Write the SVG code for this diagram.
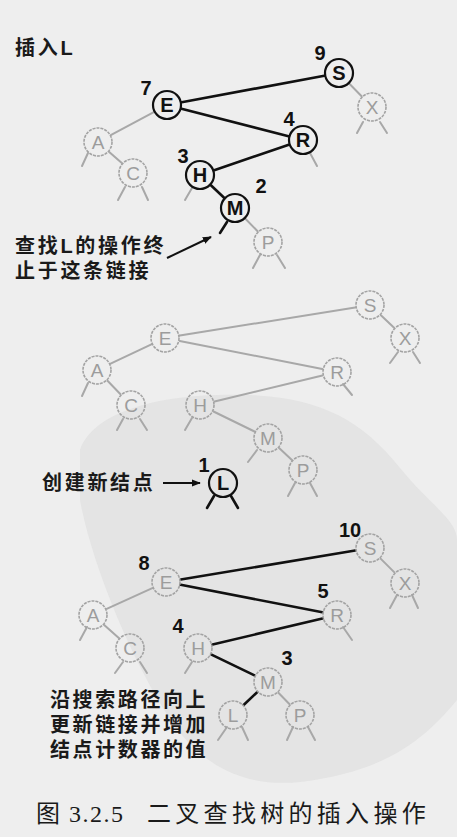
<svg xmlns="http://www.w3.org/2000/svg" width="457" height="837" viewBox="0 0 457 837">
<style>
.bg{fill:#eeeeee}
.blob{fill:#d9d9d9;opacity:0.5}
.bn circle{fill:none;stroke:#111;stroke-width:2.2}
.gn circle{fill:none;stroke:#a3a3a3;stroke-width:1.6;stroke-dasharray:3 1}
.bn text{font-family:"Liberation Sans",Arial,sans-serif;font-weight:bold;font-size:20px;fill:#111;text-anchor:middle}
.gn text{font-family:"Liberation Sans",Arial,sans-serif;font-size:19px;fill:#9c9c9c;text-anchor:middle}
.be{stroke:#111;stroke-width:2.6;fill:none;stroke-linecap:round}
.ge{stroke:#a8a8a8;stroke-width:2;fill:none;stroke-linecap:round}
.num{font-family:"Liberation Sans",Arial,sans-serif;font-weight:bold;font-size:20px;fill:#111;text-anchor:middle}
.cjk{font-family:"Liberation Sans","Noto Sans CJK SC",sans-serif;font-weight:bold;font-size:20px;fill:#1a1a1a;letter-spacing:2.7px}
.cap{font-family:"Liberation Serif","Noto Sans CJK SC",serif;font-size:24px;fill:#1a1a1a}
</style>
<defs>
<marker id="ah" viewBox="0 0 10 10" refX="9" refY="5" markerWidth="9" markerHeight="9" markerUnits="userSpaceOnUse" orient="auto"><path d="M0,1 L10,5 L0,9 Z" fill="#111"/></marker>
</defs>
<rect class="bg" x="0" y="0" width="457" height="837"/>
<path class="blob" d="M80 450 C95 408 170 392 250 395 C320 398 362 420 400 468 C430 505 457 520 457 540 L457 700 C420 745 380 772 300 782 C240 788 200 762 172 722 C132 662 92 565 80 500 Z"/>

<!-- texts -->
<text class="cjk" x="15" y="55">插入L</text>
<text class="cjk" x="15" y="253">查找L的操作终</text>
<text class="cjk" x="15" y="278">止于这条链接</text>
<text class="cjk" x="42" y="490">创建新结点</text>
<text class="cjk" x="50" y="707" style="letter-spacing:2.6px">沿搜索路径向上</text>
<text class="cjk" x="50" y="732" style="letter-spacing:2.6px">更新链接并增加</text>
<text class="cjk" x="50" y="757" style="letter-spacing:2.6px">结点计数器的值</text>
<text class="cap" x="36" y="822" style="letter-spacing:1.5px">图 3.2.5</text>
<text class="cap" x="147" y="822" style="letter-spacing:4.3px">二叉查找树的插入操作</text>

<!-- connectors -->
<g id="connectors">
  <!-- top tree -->
  <line class="be" x1="181.7" y1="102.3" x2="324.3" y2="75.7"/>
  <line class="be" x1="181.5" y1="108.7" x2="288.5" y2="136.3"/>
  <line class="be" x1="288.8" y1="144.8" x2="214.2" y2="170.2"/>
  <line class="be" x1="210.9" y1="185.3" x2="224.1" y2="197.7"/>
  <line class="ge" x1="153.8" y1="112.1" x2="111.2" y2="134.9"/>
  <line class="ge" x1="109.2" y1="151.9" x2="121.8" y2="163.1"/>
  <line class="ge" x1="349.4" y1="83.8" x2="361.6" y2="96.2"/>
  <line class="ge" x1="245.4" y1="218.8" x2="257.6" y2="231.2"/>
  <line class="be" x1="227" y1="222" x2="220" y2="233"/>
  <line class="ge" x1="363" y1="122" x2="357" y2="133"/>
  <line class="ge" x1="380" y1="122" x2="387" y2="133"/>
  <line class="ge" x1="88" y1="153" x2="82" y2="166"/>
  <line class="ge" x1="125" y1="187" x2="118" y2="200"/>
  <line class="ge" x1="142" y1="187" x2="148" y2="200"/>
  <line class="ge" x1="310" y1="153" x2="317" y2="166"/>
  <line class="ge" x1="192" y1="188" x2="185" y2="200"/>
  <line class="ge" x1="260" y1="255" x2="253" y2="268"/>
  <line class="ge" x1="277" y1="255" x2="285" y2="268"/>
  <line x1="167" y1="258" x2="211" y2="237" stroke="#111" stroke-width="2" marker-end="url(#ah)"/>

  <!-- middle tree -->
  <line class="ge" x1="179.8" y1="335.6" x2="355.2" y2="307.4"/>
  <line class="ge" x1="179.7" y1="340.9" x2="322.3" y2="369.1"/>
  <line class="ge" x1="322.4" y1="375.5" x2="214.6" y2="401.5"/>
  <line class="ge" x1="213.5" y1="411.5" x2="254.5" y2="431.5"/>
  <line class="ge" x1="151.4" y1="344.4" x2="110.6" y2="363.6"/>
  <line class="ge" x1="107.5" y1="380.8" x2="120.5" y2="394.2"/>
  <line class="ge" x1="380.9" y1="315.3" x2="394.1" y2="327.7"/>
  <line class="ge" x1="279.1" y1="448.1" x2="291.9" y2="459.9"/>
  <line class="ge" x1="398" y1="352" x2="390" y2="363"/>
  <line class="ge" x1="413" y1="352" x2="420" y2="363"/>
  <line class="ge" x1="88" y1="383" x2="82" y2="396"/>
  <line class="ge" x1="123" y1="419" x2="117" y2="430"/>
  <line class="ge" x1="140" y1="419" x2="147" y2="430"/>
  <line class="ge" x1="343" y1="384" x2="352" y2="395"/>
  <line class="ge" x1="192" y1="418" x2="185" y2="430"/>
  <line class="ge" x1="257" y1="450" x2="248" y2="462"/>
  <line class="ge" x1="295" y1="483" x2="288" y2="496"/>
  <line class="ge" x1="310" y1="483" x2="317" y2="496"/>
  <line class="be" x1="214" y1="496" x2="207" y2="508"/>
  <line class="be" x1="231" y1="496" x2="238" y2="508"/>
  <line x1="163" y1="483" x2="200" y2="483" stroke="#111" stroke-width="2" marker-end="url(#ah)"/>

  <!-- bottom tree -->
  <line class="be" x1="180.8" y1="579.5" x2="355.2" y2="550.5"/>
  <line class="be" x1="180.7" y1="584.8" x2="322.3" y2="612.2"/>
  <line class="be" x1="322.4" y1="618.5" x2="212.6" y2="644.5"/>
  <line class="be" x1="211.5" y1="654.6" x2="254.5" y2="675.4"/>
  <line class="be" x1="257.1" y1="692.3" x2="243.9" y2="704.7"/>
  <line class="ge" x1="278.4" y1="692.8" x2="289.6" y2="704.2"/>
  <line class="ge" x1="152.3" y1="588.2" x2="106.7" y2="608.8"/>
  <line class="ge" x1="104.2" y1="625" x2="118.8" y2="638"/>
  <line class="ge" x1="380.6" y1="558.6" x2="394.4" y2="572.4"/>
  <line class="ge" x1="397" y1="595" x2="390" y2="608"/>
  <line class="ge" x1="412" y1="595" x2="418" y2="608"/>
  <line class="ge" x1="87" y1="627" x2="80" y2="640"/>
  <line class="ge" x1="123" y1="662" x2="115" y2="673"/>
  <line class="ge" x1="140" y1="662" x2="147" y2="673"/>
  <line class="ge" x1="343" y1="627" x2="352" y2="640"/>
  <line class="ge" x1="192" y1="662" x2="185" y2="673"/>
  <line class="ge" x1="227" y1="727" x2="218" y2="740"/>
  <line class="ge" x1="242" y1="727" x2="248" y2="740"/>
  <line class="ge" x1="293" y1="727" x2="287" y2="740"/>
  <line class="ge" x1="308" y1="727" x2="315" y2="740"/>
</g>

<!-- top tree nodes -->
<g id="t-S" class="bn"><circle cx="339" cy="73" r="14"/><text x="339" y="80">S</text></g>
<g id="t-E" class="bn"><circle cx="167" cy="105" r="14"/><text x="167" y="112">E</text></g>
<g id="t-R" class="bn"><circle cx="303" cy="140" r="14"/><text x="303" y="147">R</text></g>
<g id="t-H" class="bn"><circle cx="200" cy="175" r="14"/><text x="200" y="182">H</text></g>
<g id="t-M" class="bn"><circle cx="235" cy="208" r="14"/><text x="235" y="215">M</text></g>
<g id="t-X" class="gn"><circle cx="372" cy="107" r="14"/><text x="372" y="114">X</text></g>
<g id="t-A" class="gn"><circle cx="98" cy="142" r="14"/><text x="98" y="149">A</text></g>
<g id="t-C" class="gn"><circle cx="133" cy="173" r="14"/><text x="133" y="180">C</text></g>
<g id="t-P" class="gn"><circle cx="268" cy="242" r="14"/><text x="268" y="249">P</text></g>
<text class="num" x="320" y="60">9</text>
<text class="num" x="146" y="95">7</text>
<text class="num" x="289" y="126">4</text>
<text class="num" x="183" y="163">3</text>
<text class="num" x="261" y="193">2</text>

<!-- middle tree nodes -->
<g id="m-S" class="gn"><circle cx="370" cy="305" r="14"/><text x="370" y="312">S</text></g>
<g id="m-X" class="gn"><circle cx="405" cy="338" r="14"/><text x="405" y="345">X</text></g>
<g id="m-E" class="gn"><circle cx="165" cy="338" r="14"/><text x="165" y="345">E</text></g>
<g id="m-A" class="gn"><circle cx="97" cy="370" r="14"/><text x="97" y="377">A</text></g>
<g id="m-C" class="gn"><circle cx="131" cy="405" r="14"/><text x="131" y="412">C</text></g>
<g id="m-R" class="gn"><circle cx="337" cy="372" r="14"/><text x="337" y="379">R</text></g>
<g id="m-H" class="gn"><circle cx="200" cy="405" r="14"/><text x="200" y="412">H</text></g>
<g id="m-M" class="gn"><circle cx="268" cy="438" r="14"/><text x="268" y="445">M</text></g>
<g id="m-P" class="gn"><circle cx="303" cy="470" r="14"/><text x="303" y="477">P</text></g>
<g id="m-L" class="bn"><circle cx="223" cy="483" r="14"/><text x="223" y="490">L</text></g>
<text class="num" x="204" y="472">1</text>

<!-- bottom tree nodes -->
<g id="b-S" class="gn"><circle cx="370" cy="548" r="14"/><text x="370" y="555">S</text></g>
<g id="b-X" class="gn"><circle cx="405" cy="583" r="14"/><text x="405" y="590">X</text></g>
<g id="b-E" class="gn"><circle cx="166" cy="582" r="14"/><text x="166" y="589">E</text></g>
<g id="b-A" class="gn"><circle cx="93" cy="615" r="14"/><text x="93" y="622">A</text></g>
<g id="b-C" class="gn"><circle cx="130" cy="648" r="14"/><text x="130" y="655">C</text></g>
<g id="b-R" class="gn"><circle cx="337" cy="615" r="14"/><text x="337" y="622">R</text></g>
<g id="b-H" class="gn"><circle cx="198" cy="648" r="14"/><text x="198" y="655">H</text></g>
<g id="b-M" class="gn"><circle cx="268" cy="682" r="14"/><text x="268" y="689">M</text></g>
<g id="b-L" class="gn"><circle cx="233" cy="715" r="14"/><text x="233" y="722">L</text></g>
<g id="b-P" class="gn"><circle cx="300" cy="715" r="14"/><text x="300" y="722">P</text></g>
<text class="num" x="350" y="537">10</text>
<text class="num" x="144" y="570">8</text>
<text class="num" x="323" y="598">5</text>
<text class="num" x="178" y="633">4</text>
<text class="num" x="287" y="665">3</text>
</svg>
